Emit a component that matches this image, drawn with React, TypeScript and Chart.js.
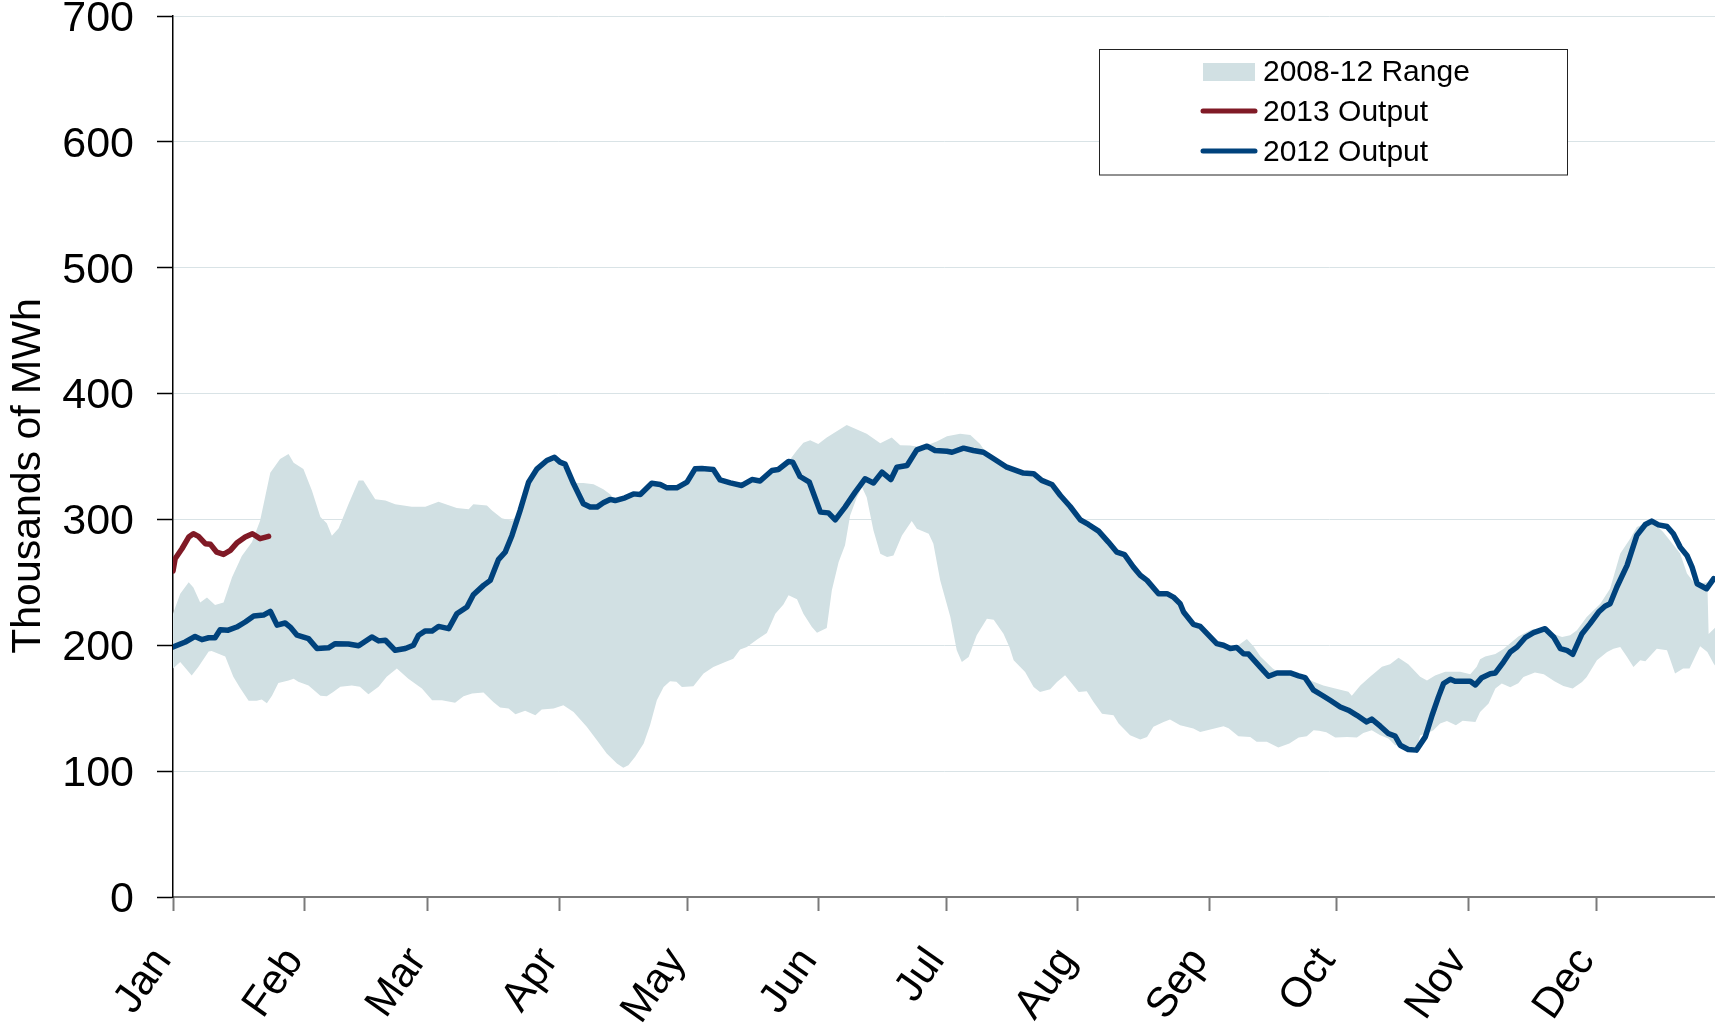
import React, { useEffect, useRef } from 'react';
import { Chart, registerables } from 'chart.js';

Chart.register(...registerables);

const FONT = "'Liberation Sans', Arial, sans-serif";

const MONTHS = ['Jan', 'Feb', 'Mar', 'Apr', 'May', 'Jun', 'Jul', 'Aug', 'Sep', 'Oct', 'Nov', 'Dec'];
const MONTH_START_DAYS = [0, 31, 60, 91, 121, 152, 182, 213, 244, 274, 305, 335];
const Y_TICKS = [0, 100, 200, 300, 400, 500, 600, 700];

// [day of year, thousands of MWh]
const OUTPUT_2013: [number, number][] = [
  [0, 259], [0.5, 268.8], [2.1, 276.7], [3.7, 286], [4.8, 288.6], [6, 286.5], [7.6, 280.7], [8.8, 280.2],
  [10.3, 274], [11.9, 272.2], [13.5, 275.4], [15, 281.2], [17, 286], [18.7, 288.6], [20.5, 284.7], [22.5, 286.5],
];

const OUTPUT_2012: [number, number][] = [
  [0, 198.6], [2.9, 202.6], [5.2, 207], [6.8, 204.5], [8.4, 206], [9.9, 206], [11.1, 212.4], [13, 212],
  [15, 214.5], [17, 218.5], [19, 223.2], [21.3, 224], [22.9, 227], [24.5, 216], [26.4, 217.7], [27.6, 214.5],
  [29.2, 208], [31.9, 205.3], [33.9, 197.4], [36.6, 198], [38.2, 201.3], [41.3, 201], [43.7, 199.6], [46.8, 206.6],
  [48.4, 203.5], [50, 204], [52.3, 196], [54.7, 197.4], [56.6, 200], [57.8, 208], [59.4, 211.4], [61, 211.4],
  [62.5, 215], [64.9, 213.2], [66.8, 225], [69.2, 230.4], [70.7, 240.2], [73.1, 247.6], [74.7, 251.6], [76.6, 268],
  [78.2, 274], [79.8, 287.3], [81.7, 307], [83.7, 329.6], [85.7, 340.2], [88, 346.8], [89.8, 349.4], [91.1, 345.5],
  [92.3, 344], [94.3, 328.3], [96.6, 312.4], [98.2, 309.8], [99.8, 309.8], [101.3, 313.2], [102.9, 315.9], [104.1, 315],
  [106.4, 317.2], [108.4, 320.3], [110, 319.8], [112.7, 328.8], [114.7, 327.8], [116.3, 325.1], [118.6, 325.1], [121, 329.6],
  [122.9, 340.2], [124.5, 340.5], [127.2, 339.7], [128.8, 331.4], [131.2, 329], [133.9, 327], [136.3, 331.7], [138.2, 330.5],
  [141, 338.9], [142.5, 339.7], [144.9, 346], [145.9, 345.5], [147.6, 334.1], [149.8, 329.6], [152.4, 305.8], [154.3, 305.2],
  [155.9, 299.7], [158.2, 309.8], [160.6, 321.7], [162.9, 332.3], [164.9, 329], [166.9, 337.6], [169, 331.7], [170.4, 341.5],
  [172.8, 342.8], [175.1, 355.3], [177.5, 358.2], [179.4, 354.8], [182.2, 354.2], [183.4, 353.4], [186.1, 356.6], [188.4, 354.8],
  [190.8, 353.4], [193.2, 348.2], [196.3, 341.5], [200.2, 336.8], [202.6, 336.3], [204.5, 331], [206.9, 327.8], [208.9, 319],
  [211.2, 310.3], [213.6, 299.7], [215.5, 296], [217.9, 290.7], [220.2, 282], [222.2, 274], [224, 272], [226.1, 262.1],
  [227.7, 255.6], [229.3, 251.6], [232, 241], [234, 241], [235.5, 238.3], [237.1, 233], [237.9, 226.4], [240.2, 216.7],
  [241.8, 215], [245.7, 201.3], [247.3, 200], [248.9, 197.4], [250.4, 198.2], [252, 193.3], [253.2, 193], [255.9, 182.8],
  [257.9, 175.4], [259.9, 178], [263, 178], [265, 175.7], [266.5, 174.3], [268.5, 164.3], [270.5, 160.3], [272.4, 156.3],
  [274.8, 151], [276.7, 148.4], [278.7, 144.4], [281, 139.1], [282.2, 141.3], [284.2, 135.7], [286.1, 129.9], [287.7, 127.8],
  [288.9, 120.6], [290.8, 117.2], [292.7, 116.7], [294.8, 127.2], [296.4, 144.4], [297.9, 159], [299.1, 169.6], [300.7, 173],
  [301.8, 171.4], [305.4, 171.4], [306.6, 168.5], [308.1, 174.3], [310.1, 177.4], [311.3, 178], [313.2, 186.7], [314.8, 194.7],
  [316.4, 198.6], [318.3, 206], [320.3, 210], [323, 213.2], [325, 206.6], [326.6, 197.3], [328.1, 196], [329.5, 192.8],
  [331.7, 209.2], [333.6, 217.2], [335.6, 226.4], [337.1, 231], [338.3, 233], [339.9, 246.3], [342.3, 263.5], [344.6, 287.3],
  [346.6, 296], [348.1, 298.7], [349.7, 295.7], [351.7, 294.4], [353.2, 288.6], [354.8, 278], [356.4, 271.4], [357.6, 262.1],
  [358.8, 248.9], [361, 244.9], [362.7, 252.9],
];

const RANGE_HIGH: [number, number][] = [
  [0, 225], [1.7, 241], [3.7, 250], [4.8, 246], [6.4, 234], [8, 238], [9.9, 232], [11.9, 234],
  [13.9, 254], [16.2, 271], [18.6, 282], [20.5, 299], [21.7, 318], [22.9, 337], [25.2, 348], [27.2, 352],
  [28.4, 345], [30.7, 340], [32.7, 323], [34.7, 302], [36.2, 297], [37.4, 287], [39, 293], [41.3, 312],
  [43.7, 331], [44.8, 331], [47.6, 316], [50, 315], [52.3, 312], [56.2, 310], [59.4, 310], [62.5, 314],
  [66.8, 309], [69.6, 308], [70.7, 312], [73.9, 311], [75.1, 307], [77.4, 301], [79.8, 299], [81.7, 307],
  [83.7, 330], [85.7, 340], [88, 347], [89.8, 349], [91.1, 346], [92.3, 344], [94.3, 329], [96.6, 329],
  [99, 328], [101.3, 324], [102.9, 320], [104.1, 315], [106.4, 317], [108.4, 320], [110, 320], [112.7, 329],
  [114.7, 328], [116.3, 325], [118.6, 325], [121, 330], [122.9, 340], [124.5, 340.5], [127.2, 340], [128.8, 331],
  [131.2, 329], [133.9, 327], [136.3, 332], [138.2, 330.5], [141, 339], [142.5, 340], [144.9, 346], [146.9, 355],
  [148.4, 361], [150, 363], [151.9, 360], [153.9, 365], [155.5, 368.5], [158.6, 375], [160.6, 372], [163.3, 368],
  [166.5, 360.6], [169.2, 365], [171.2, 359], [173.5, 358.7], [175.1, 358], [177.5, 359], [179.8, 362], [182.2, 366],
  [185.3, 368], [187.7, 367], [190, 360], [191.6, 352], [193.2, 348], [196.3, 341.5], [200.2, 337], [202.6, 336],
  [204.5, 331], [206.9, 328], [208.9, 319], [211.2, 310], [213.6, 300], [215.5, 296], [217.9, 291], [220.2, 282],
  [222.2, 274], [224, 272], [226.1, 262], [227.7, 256], [229.3, 252], [232, 241], [234, 241], [235.5, 238],
  [237.1, 234], [237.9, 228], [240.2, 217], [241.8, 215], [245.7, 201], [247.3, 200], [248.9, 198], [250.4, 199],
  [252.8, 205], [254.4, 199], [256, 191], [258.9, 181.5], [260.6, 178], [263, 178], [265, 176], [266.5, 174.5],
  [268.5, 171], [270.8, 168], [273.6, 165.6], [276.7, 163], [277.5, 160], [279.5, 168], [281.8, 175], [284.6, 183],
  [286.5, 185], [288.5, 190], [290.8, 185], [293.6, 175], [295.2, 172], [297.1, 176], [299.5, 179], [303, 179],
  [305.4, 177], [306.9, 183], [307.7, 189], [308.9, 191], [311.3, 193], [313.2, 197], [316.7, 207], [319.5, 212],
  [320.3, 213], [323, 213.5], [325, 209], [327, 206.6], [328.9, 208], [330.5, 212], [332.8, 222.5], [336, 233],
  [338.3, 245], [340.7, 273], [343.1, 285], [344.6, 294], [346, 296], [348.1, 299], [350.8, 290], [354.8, 273],
  [356.4, 257], [358, 250], [359.4, 249], [361.2, 250], [361.5, 209], [363, 214],
];

const RANGE_LOW: [number, number][] = [
  [0, 181.5], [1.7, 186.7], [4.4, 176], [6, 183], [8.4, 195], [9.1, 195.5], [12.3, 191], [14.2, 175],
  [15.8, 166], [17.8, 156], [19.7, 156], [20.9, 157], [22.1, 154], [23.3, 160], [24.8, 170], [27.2, 172],
  [28.4, 173.5], [29.5, 171], [31.9, 168], [34.7, 160], [36.2, 159.6], [37.8, 163], [39.4, 167], [42.1, 168],
  [44, 167], [46, 161], [48.4, 167], [50.3, 175], [52.7, 181.5], [55.4, 173.5], [58.6, 165.6], [61, 156.3],
  [63.3, 156.3], [66.4, 154.4], [68.4, 159.5], [70.4, 161.6], [73.1, 162.4], [75.4, 155], [77, 150.5], [79, 149.7],
  [80.6, 145.2], [82.9, 147.9], [85.3, 144.4], [86.8, 148.9], [89.6, 149.7], [91.9, 152.4], [94.3, 147], [97.4, 135.2],
  [99.8, 124.6], [102.1, 114], [104.5, 106], [106, 102.6], [107.2, 104.7], [108.8, 111.4], [110.8, 122], [112.3, 136.5],
  [113.9, 156.3], [115.5, 166.9], [117, 171.4], [118.5, 171], [119.8, 166.9], [122.5, 167.5], [124.9, 177.5], [127.2, 182.8],
  [130, 186.7], [131.9, 189.4], [133.5, 196.6], [135.1, 198.6], [137.5, 204.5], [139.8, 209.8], [141.8, 225], [143.7, 232.5],
  [144.9, 239.7], [146.9, 236.5], [148.4, 225], [150.4, 214.5], [151.6, 210], [153.9, 213.7], [155.1, 243.7], [156.7, 266.1],
  [158.2, 279.4], [159.4, 303.2], [161, 317.7], [162.2, 325.6], [163.3, 317.7], [164.9, 291.3], [166.5, 272.8], [168.1, 270.1],
  [169.6, 271.4], [171.6, 287.3], [173.9, 298.7], [175.1, 292.6], [177.9, 288.6], [179, 280.7], [180.6, 251.6], [183, 222.5],
  [184.5, 196], [185.7, 186.7], [187.3, 190.7], [189.2, 208], [191.6, 221.1], [193.2, 220.3], [195.5, 209.2], [196.9, 198.6],
  [197.9, 188.1], [200.6, 178.8], [202.6, 166.9], [204.1, 162.9], [206.5, 165.1], [208.1, 170.9], [210, 176.2], [211.6, 169.6],
  [213.2, 162.9], [215.1, 163.4], [216.7, 155], [218.7, 145.7], [221.4, 144.4], [222.6, 137.8], [225.3, 128.6], [227.7, 125.1],
  [229.3, 127.2], [230.8, 135.2], [233.2, 139.1], [234.7, 141], [237.1, 136.5], [240.2, 133.9], [241.8, 131.1], [244.2, 133],
  [247.3, 135.7], [248.5, 134], [250.8, 127.8], [253.6, 127.2], [255.1, 123.3], [257.5, 123.3], [260.2, 118.7], [262.8, 121.9],
  [265, 126.7], [266.9, 127.8], [268.5, 132.5], [269.8, 132], [271.5, 131], [273.6, 126.7], [276.4, 127.2], [278.7, 126.7],
  [280.2, 130.4], [282.2, 132.5], [284.2, 128.6], [286.1, 125.9], [287.7, 120.6], [288.9, 120.6], [290.8, 117.2], [292.7, 116.7],
  [293.6, 128.6], [295.2, 129.9], [296.7, 132.5], [298.3, 137.8], [299.9, 139.8], [302, 136.5], [303.6, 140], [306.6, 139.1],
  [307.7, 147], [309.7, 153.7], [311.3, 165.6], [312.8, 169.6], [314.8, 166.6], [316.7, 169.8], [317.9, 174.8], [320.6, 178.4],
  [322.7, 177], [325.2, 171.5], [327.3, 167.6], [329.5, 165.6], [331.7, 170.9], [332.8, 174.8], [335.2, 188.1], [337.6, 194.7],
  [339.1, 197.3], [340.7, 198.6], [342.3, 190.7], [343.8, 182.8], [345.4, 188.1], [346.6, 187.3], [349.3, 197.3], [351.7, 196],
  [353.6, 177.5], [355.5, 181.5], [357, 181.5], [359.5, 199.2], [361.2, 194.7], [362.7, 185.4], [363, 184],
];

const BAND_COLOR = 'rgb(209,224,227)';
const BLUE = 'rgb(0,66,124)';
const RED = 'rgb(128,26,38)';

const toPoints = (arr: [number, number][]) => arr.map(([x, y]) => ({ x, y }));

const overlayPlugin = {
  id: 'overlay',
  afterDraw(chart: any) {
    const ctx = chart.ctx as CanvasRenderingContext2D;
    ctx.save();
    // y-axis title
    ctx.save();
    ctx.translate(40, 476);
    ctx.rotate(-Math.PI / 2);
    ctx.font = `41px ${FONT}`;
    ctx.fillStyle = '#000';
    ctx.textAlign = 'center';
    ctx.textBaseline = 'alphabetic';
    ctx.fillText('Thousands of MWh', 0, 0);
    ctx.restore();

    // legend box
    const bx = 1099.5, by = 49.5, bw = 468, bh = 125.5;
    ctx.fillStyle = '#fff';
    ctx.fillRect(bx, by, bw, bh);
    ctx.strokeStyle = '#222';
    ctx.lineWidth = 1;
    ctx.strokeRect(bx, by, bw, bh);

    ctx.fillStyle = BAND_COLOR;
    ctx.fillRect(1203, 63, 52, 18);

    ctx.lineCap = 'round';
    ctx.lineWidth = 5;
    ctx.strokeStyle = RED;
    ctx.beginPath();
    ctx.moveTo(1203, 111);
    ctx.lineTo(1255, 111);
    ctx.stroke();
    ctx.strokeStyle = BLUE;
    ctx.beginPath();
    ctx.moveTo(1203, 151);
    ctx.lineTo(1255, 151);
    ctx.stroke();

    ctx.fillStyle = '#000';
    ctx.font = `30px ${FONT}`;
    ctx.textAlign = 'left';
    ctx.textBaseline = 'alphabetic';
    ctx.fillText('2008-12 Range', 1263, 81);
    ctx.fillText('2013 Output', 1263, 121);
    ctx.fillText('2012 Output', 1263, 161);
    ctx.restore();
  },
};

export default function App() {
  const canvasRef = useRef<HTMLCanvasElement | null>(null);

  useEffect(() => {
    const canvas = canvasRef.current;
    if (!canvas) return;
    const chart = new Chart(canvas, {
      type: 'line',
      data: {
        datasets: [
          {
            label: '2013 Output',
            data: toPoints(OUTPUT_2013),
            borderColor: RED,
            borderWidth: 5.5,
            pointRadius: 0,
            tension: 0,
            fill: false,
            borderJoinStyle: 'round',
            borderCapStyle: 'round',
          },
          {
            label: '2012 Output',
            data: toPoints(OUTPUT_2012),
            borderColor: BLUE,
            borderWidth: 5.5,
            pointRadius: 0,
            tension: 0,
            fill: false,
            borderJoinStyle: 'round',
            borderCapStyle: 'round',
          },
          {
            label: '2008-12 Range',
            data: toPoints(RANGE_HIGH),
            borderColor: 'rgba(0,0,0,0)',
            borderWidth: 0,
            backgroundColor: BAND_COLOR,
            pointRadius: 0,
            tension: 0,
            fill: '+1',
          },
          {
            label: 'Range low',
            data: toPoints(RANGE_LOW),
            borderColor: 'rgba(0,0,0,0)',
            borderWidth: 0,
            pointRadius: 0,
            tension: 0,
            fill: false,
          },
        ],
      } as any,
      options: {
        responsive: false,
        animation: false,
        events: [],
        layout: { padding: { top: 16, left: 0, right: 0, bottom: 0 } },
        plugins: { legend: { display: false }, tooltip: { enabled: false } },
        scales: {
          x: {
            type: 'linear',
            min: 0,
            max: 363,
            afterBuildTicks: (s: any) => {
              s.ticks = MONTH_START_DAYS.map((v) => ({ value: v }));
            },
            afterFit: (s: any) => {
              s.height = 128;
              s.paddingLeft = 0;
              s.paddingRight = 0;
            },
            ticks: {
              autoSkip: false,
              minRotation: 55,
              maxRotation: 55,
              padding: 28,
              labelOffset: -10,
              color: '#000',
              font: { family: FONT, size: 42 },
              callback: (v: any) => {
                const i = MONTH_START_DAYS.indexOf(Number(v));
                return i >= 0 ? MONTHS[i] : '';
              },
            },
            grid: {
              drawOnChartArea: false,
              drawTicks: true,
              tickLength: 14,
              tickColor: '#7a7a7a',
              tickWidth: 2,
            },
            border: { display: true, color: '#7a7a7a', width: 2 },
          },
          y: {
            type: 'linear',
            min: 0,
            max: 700,
            afterBuildTicks: (s: any) => {
              s.ticks = Y_TICKS.map((v) => ({ value: v }));
            },
            afterFit: (s: any) => {
              s.width = 173;
              s.paddingTop = 0;
              s.paddingBottom = 0;
            },
            ticks: {
              padding: 23,
              labelOffset: 3,
              color: '#000',
              font: { family: FONT, size: 43 },
            },
            grid: {
              color: '#d9e3e6',
              lineWidth: 1,
              tickLength: 16,
              tickColor: '#000',
              tickWidth: 1.5,
            },
            border: { display: true, color: '#000', width: 1.5 },
          },
        },
      } as any,
      plugins: [overlayPlugin],
    });
    return () => chart.destroy();
  }, []);

  return (
    <div style={{ position: 'absolute', left: 0, top: 0, width: 1715, height: 1025, background: '#fff' }}>
      <canvas ref={canvasRef} width={1715} height={1025} style={{ display: 'block' }} />
    </div>
  );
}
